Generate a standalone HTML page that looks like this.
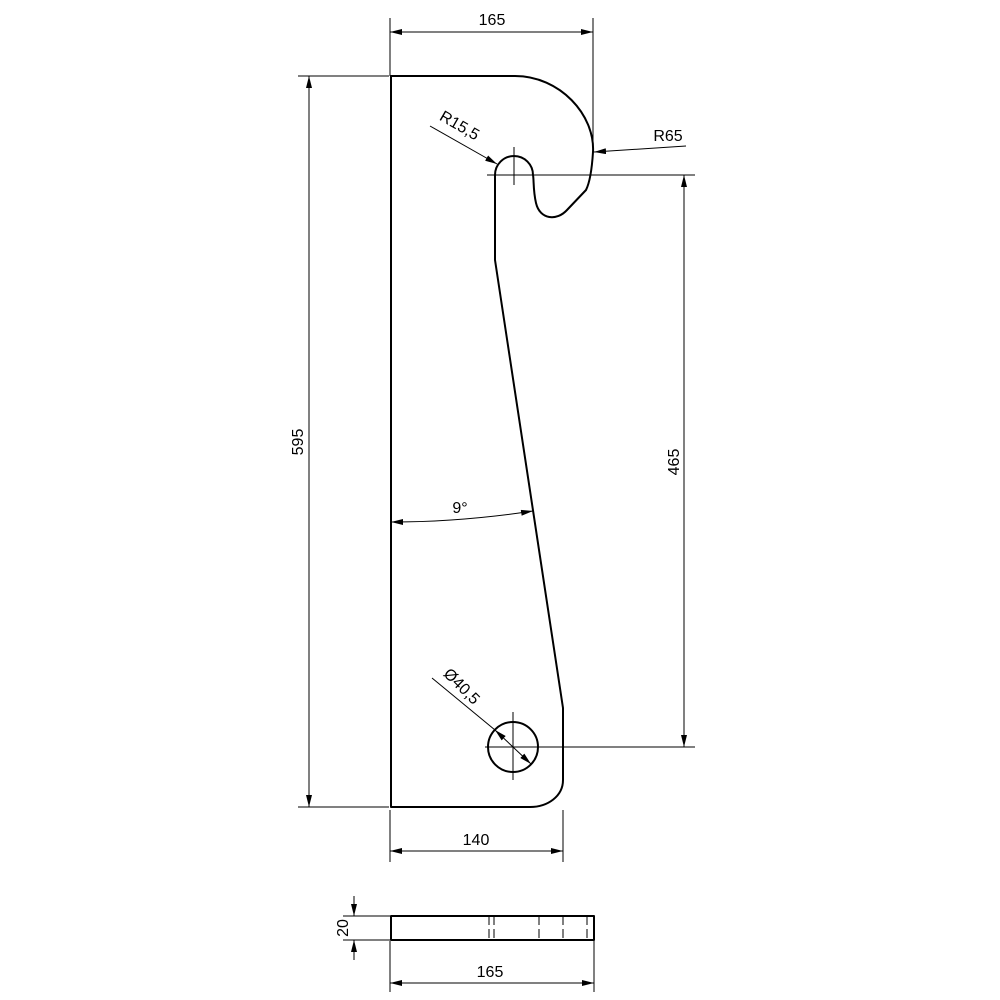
<!DOCTYPE html>
<html><head><style>html,body{margin:0;padding:0;background:#fff}svg{display:block}
text{font-family:"Liberation Sans",sans-serif;font-size:16px;fill:#000}</style></head>
<body>
<svg width="1000" height="1000" viewBox="0 0 1000 1000" xmlns="http://www.w3.org/2000/svg">
<defs>
<marker id="a" viewBox="0 0 12 6" refX="12" refY="3" markerWidth="12" markerHeight="6" orient="auto-start-reverse" markerUnits="userSpaceOnUse"><path d="M0,0 L12,3 L0,6 z" fill="#000"/></marker>
</defs>
<g fill="none" stroke="#000" stroke-width="2" stroke-linejoin="round">
<path d="M391,76 L515,76 C560,76 595,115 593,152 C592,168 590,182 586,190 L567,210 C557,221 540,220 536,203 C533,190 534,180 533,175 A19,19 0 0 0 495,175 L495,260 L563,708 L563,780 C563,796 548,807 530,807 L391,807 Z"/>
<circle cx="513" cy="747" r="25"/>
<rect x="391" y="916" width="203" height="24"/>
</g>
<g fill="none" stroke="#000" stroke-width="1">
<line x1="514" y1="147" x2="514" y2="185"/>
<line x1="487" y1="175" x2="695" y2="175"/>
<line x1="485" y1="747" x2="695" y2="747"/>
<line x1="513" y1="712" x2="513" y2="780"/>
<line x1="390" y1="18" x2="390" y2="76"/>
<line x1="593" y1="18" x2="593" y2="150"/>
<line x1="390" y1="32" x2="593" y2="32" marker-start="url(#a)" marker-end="url(#a)"/>
<line x1="298" y1="76" x2="389" y2="76"/>
<line x1="298" y1="807" x2="389" y2="807"/>
<line x1="309" y1="76" x2="309" y2="807" marker-start="url(#a)" marker-end="url(#a)"/>
<line x1="684" y1="175" x2="684" y2="747" marker-start="url(#a)" marker-end="url(#a)"/>
<line x1="686" y1="146" x2="594" y2="152" marker-end="url(#a)"/>
<line x1="430" y1="126" x2="497" y2="164" marker-end="url(#a)"/>
<path d="M391,522 Q460,522 533,511" marker-start="url(#a)" marker-end="url(#a)"/>
<line x1="432" y1="678" x2="495" y2="730"/>
<line x1="495" y1="730" x2="531" y2="764" marker-start="url(#a)" marker-end="url(#a)"/>
<line x1="390" y1="810" x2="390" y2="862"/>
<line x1="563" y1="810" x2="563" y2="862"/>
<line x1="390" y1="851" x2="563" y2="851" marker-start="url(#a)" marker-end="url(#a)"/>
<line x1="343" y1="916" x2="390" y2="916"/>
<line x1="343" y1="940" x2="390" y2="940"/>
<line x1="354" y1="896" x2="354" y2="916" marker-end="url(#a)"/>
<line x1="354" y1="960" x2="354" y2="940" marker-end="url(#a)"/>
<line x1="390" y1="941" x2="390" y2="992"/>
<line x1="594" y1="941" x2="594" y2="992"/>
<line x1="390" y1="983" x2="594" y2="983" marker-start="url(#a)" marker-end="url(#a)"/>
<g stroke-dasharray="9,4">
<line x1="489" y1="916" x2="489" y2="940"/>
<line x1="494" y1="916" x2="494" y2="940"/>
<line x1="539" y1="916" x2="539" y2="940"/>
<line x1="563" y1="916" x2="563" y2="940"/>
<line x1="587" y1="916" x2="587" y2="940"/>
</g>
</g>
<text x="492" y="25" text-anchor="middle">165</text>
<text transform="translate(303,442) rotate(-90)" text-anchor="middle">595</text>
<text transform="translate(679,462) rotate(-90)" text-anchor="middle">465</text>
<text x="668" y="141" text-anchor="middle">R65</text>
<text transform="translate(457,130) rotate(30)" text-anchor="middle">R15,5</text>
<text x="460" y="513" text-anchor="middle">9°</text>
<text transform="translate(458,690) rotate(45)" text-anchor="middle">Ø40,5</text>
<text x="476" y="845" text-anchor="middle">140</text>
<text transform="translate(348,928) rotate(-90)" text-anchor="middle">20</text>
<text x="490" y="977" text-anchor="middle">165</text>
</svg>
</body></html>
